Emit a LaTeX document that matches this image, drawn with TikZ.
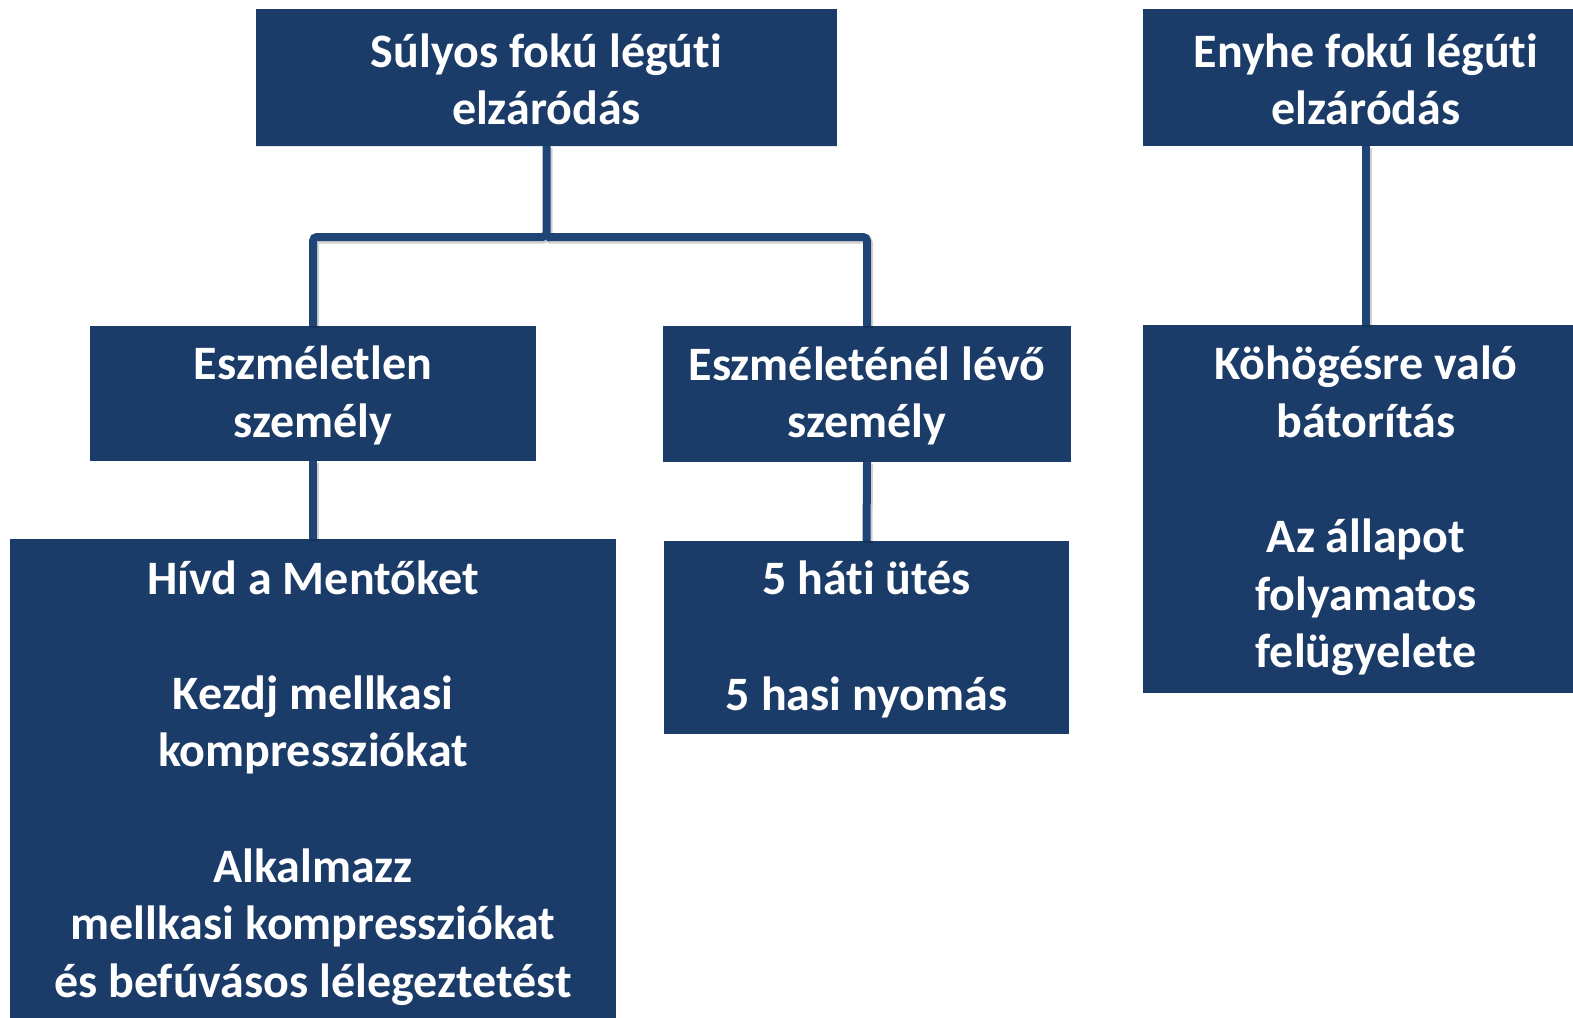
\documentclass[tikz,border=0pt]{standalone}
\usepackage{fontspec}
\setmainfont[Ligatures=NoCommon]{Carlito}
\definecolor{boxblue}{HTML}{1B3C69}
\definecolor{lineblue}{HTML}{1F4577}
\begin{document}
\begin{tikzpicture}[x=1pt,y=-1pt,
  box/.style={fill=boxblue,draw=none,inner sep=0pt},
  txt/.style={inner sep=0pt,align=center,text=white,
    font=\fontsize{48}{57.6}\selectfont\bfseries},
  conn/.style={draw=lineblue,line width=8pt,rounded corners=4pt},
  shade/.style={draw=black,opacity=0.18,line width=9pt,rounded corners=4pt,transform canvas={xshift=1.5pt,yshift=-2pt}}]
\useasboundingbox (0,0) rectangle (1573,1017);
% boxes
\node[box,minimum width=581pt,minimum height=137pt] (A) at (546.5,77.5) {};
\node[box,minimum width=446pt,minimum height=137pt] (B) at (1366,77.5) {};
\node[box,minimum width=446pt,minimum height=135pt] (C) at (313,393.5) {};
\node[box,minimum width=408pt,minimum height=136pt] (D) at (867,394) {};
\node[box,minimum width=446pt,minimum height=368pt] (E) at (1366,509) {};
\node[box,minimum width=606pt,minimum height=484pt] (F) at (313,781) {};
\node[box,minimum width=405pt,minimum height=193pt] (G) at (866.5,637.5) {};
% connectors
\coordinate (J) at (546.5,237);
\draw[shade] (A.south) -- (J) -| (C.north);
\draw[shade] (J) -| (D.north);
\draw[shade] (C.south) -- (F.north);
\draw[shade] (D.south) -- (G.north);
\draw[shade] (B.south) -- (E.north);
\draw[conn] (A.south) -- (J) -| (C.north);
\draw[conn] (J) -| (D.north);
\draw[conn] (C.south) -- (F.north);
\draw[conn] (D.south) -- (G.north);
\draw[conn] (B.south) -- (E.north);
\fill[boxblue] (A.south west) rectangle (A.south east);
% texts
\node[txt] (tA) at ([yshift=-2pt]A.center) {Súlyos fokú légúti\\elzáródás};
\node[txt] (tB) at ([yshift=-2pt]B.center) {Enyhe fokú légúti\\elzáródás};
\node[txt] (tC) at ([yshift=-2pt]C.center) {Eszméletlen\\személy};
\node[txt] (tD) at ([yshift=-2pt]D.center) {Eszméleténél lévő\\személy};
\node[txt] (tE) at ([yshift=-2pt]E.center) {Köhögésre való\\bátorítás\\[57.6pt]Az állapot\\folyamatos\\felügyelete};
\node[txt] (tF) at ([yshift=-2pt]F.center) {Hívd a Mentőket\\[57.6pt]Kezdj mellkasi\\kompressziókat\\[57.6pt]Alkalmazz\\mellkasi kompressziókat\\és befúvásos lélegeztetést};
\node[txt] (tG) at ([yshift=-2pt]G.center) {5 háti ütés\\[57.6pt]5 hasi nyomás};
\end{tikzpicture}
\end{document}
